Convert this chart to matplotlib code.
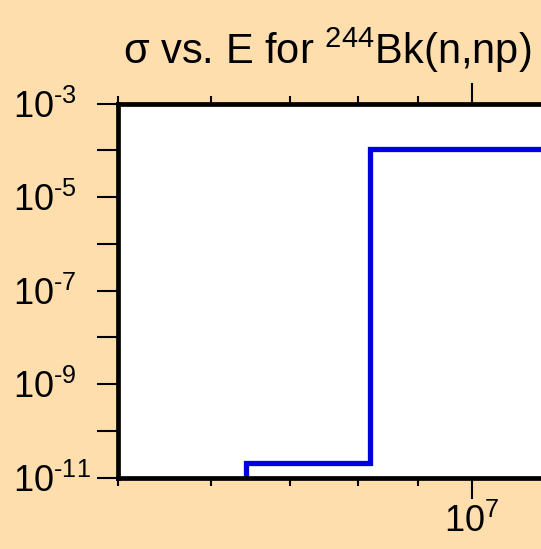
import matplotlib
matplotlib.use("Agg")
import matplotlib.pyplot as plt
from matplotlib.ticker import FixedLocator, NullFormatter

plt.rcParams['font.family'] = ['Liberation Sans', 'DejaVu Sans']
plt.rcParams['mathtext.fontset'] = 'custom'
plt.rcParams['mathtext.rm'] = 'Liberation Sans'
plt.rcParams['mathtext.it'] = 'Liberation Sans:italic'
plt.rcParams['mathtext.bf'] = 'Liberation Sans:bold'

# ---- data ----
energy = [6.43e6, 6.43e6, 8.19e6, 8.19e6, 2.0e7]      # eV
sigma = [1e-12, 2.1e-11, 2.1e-11, 1.05e-4, 1.05e-4]   # barns
x_limits = [5e6, 2e7]
y_limits = [1e-11, 1e-3]
y_major = [1e-11, 1e-9, 1e-7, 1e-5, 1e-3]
y_major_labels = ['-11', '-9', '-7', '-5', '-3']
y_minor = [1e-10, 1e-8, 1e-6, 1e-4]
x_major = [1e7]
x_major_labels = ['7']
x_minor = [5e6, 6e6, 7e6, 8e6, 9e6, 2e7]
title_text = r'σ vs. E for $^{244}$Bk(n,np)'

bg = '#FFDEAD'
W, H = 541, 549
fig = plt.figure(figsize=(W / 100, H / 100), dpi=100, facecolor=bg)

left_px, right_px = 118.3, 824.8
top_px, bottom_px = 103.5, 477.7
ax = fig.add_axes([left_px / W, 1 - bottom_px / H,
                   (right_px - left_px) / W, (bottom_px - top_px) / H])
ax.set_facecolor('white')
ax.set_xscale('log')
ax.set_yscale('log')
ax.set_xlim(*x_limits)
ax.set_ylim(*y_limits)

ax.plot(energy, sigma, color='#0000E0', lw=3.8, solid_joinstyle='miter',
        solid_capstyle='butt')

for s in ax.spines.values():
    s.set_linewidth(3.4)
    s.set_color('black')

# y ticks
ax.yaxis.set_major_locator(FixedLocator(y_major))
ax.yaxis.set_minor_locator(FixedLocator(y_minor))
ax.yaxis.set_minor_formatter(NullFormatter())
ax.set_yticks(y_major, [r'$10^{\text{' + e + '}}$' for e in y_major_labels],
              ha='left')
ax.tick_params(axis='y', which='both', direction='out', length=15, width=1.5,
               left=True, right=False)
ax.tick_params(axis='y', which='major', labelsize=26, pad=60.8)

# x ticks
ax.xaxis.set_major_locator(FixedLocator(x_major))
ax.xaxis.set_minor_locator(FixedLocator(x_minor))
ax.xaxis.set_minor_formatter(NullFormatter())
ax.set_xticks(x_major, [r'$10^{' + e + '}$' for e in x_major_labels])
ax.tick_params(axis='x', which='major', direction='out', length=15, width=1.5,
               top=True, bottom=True, labelsize=26, pad=4)
ax.tick_params(axis='x', which='minor', direction='out', length=6, width=1.5,
               top=True, bottom=True)

fig.text(123 / W, 1 - 64 / H, title_text, ha='left', va='baseline',
         fontsize=30)

fig.savefig('out.png', dpi=100, facecolor=bg)
